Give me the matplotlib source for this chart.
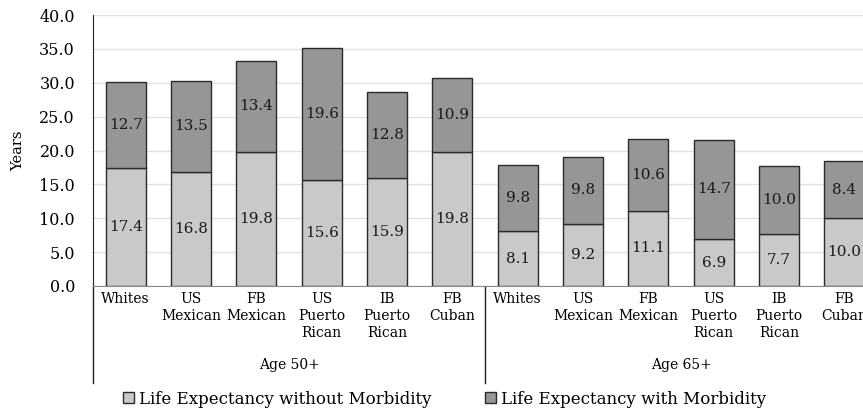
import numpy as np
import matplotlib
matplotlib.use('Agg')
import matplotlib.pyplot as plt
import matplotlib.transforms as mtransforms

# categories per age group
groups = ["Age 50+", "Age 65+"]
categories = ["Whites", "US\nMexican", "FB\nMexican", "US\nPuerto\nRican", "IB\nPuerto\nRican", "FB\nCuban"]

# life expectancy (years) without and with morbidity
without_50 = [17.4, 16.8, 19.8, 15.6, 15.9, 19.8]
with_50 = [12.7, 13.5, 13.4, 19.6, 12.8, 10.9]
without_65 = [8.1, 9.2, 11.1, 6.9, 7.7, 10.0]
with_65 = [9.8, 9.8, 10.6, 14.7, 10.0, 8.4]

yticks = [0, 5, 10, 15, 20, 25, 30, 35, 40]

light = "#c8c9cb"
dark = "#959698"
edge = "#2b2b2b"

plt.rcParams['font.family'] = ['DejaVu Serif']

fig = plt.figure(figsize=(8.63, 4.18), dpi=100)
# axis runs past the right edge of the figure, as in the original
ax = fig.add_axes([93 / 863, 132 / 418, 784 / 863, 271 / 418])

lower = np.array(without_50 + without_65)
upper = np.array(with_50 + with_65)
x = np.arange(len(lower))

b1 = ax.bar(x, lower, width=0.61, color=light, edgecolor=edge, linewidth=1.0,
            label="Life Expectancy without Morbidity", zorder=3)
b2 = ax.bar(x, upper, width=0.61, bottom=lower, color=dark, edgecolor=edge, linewidth=1.0,
            label="Life Expectancy with Morbidity", zorder=3)

for i in range(len(x)):
    ax.text(x[i], lower[i] / 2, f"{lower[i]:.1f}", ha='center', va='center',
            fontsize=11, color="#1a1a1a", zorder=4)
    ax.text(x[i], lower[i] + upper[i] / 2, f"{upper[i]:.1f}", ha='center', va='center',
            fontsize=11, color="#1a1a1a", zorder=4)

ax.set_xlim(-0.5, len(x) - 0.5)
ax.set_ylim(0, 40)
ax.set_yticks(yticks)
ax.set_yticklabels([f"{v:.1f}" for v in yticks], fontsize=11.5)
ax.yaxis.grid(True, color="#e2e2e2", linewidth=1.0, zorder=0)
ax.set_axisbelow(True)
ax.tick_params(axis='y', length=0, pad=13)
ax.set_ylabel("Years", fontsize=10.5, labelpad=10)

ax.set_xticks(x)
ax.set_xticklabels(categories * 2, fontsize=10, linespacing=1.3)
ax.tick_params(axis='x', length=0, pad=4)

for s in ['top', 'right']:
    ax.spines[s].set_visible(False)
ax.spines['left'].set_color("#222222")
ax.spines['bottom'].set_color("#8a8a8a")

# vertical separators below the axis and group labels
trans = mtransforms.blended_transform_factory(ax.transData, ax.transAxes)
low = -97 / 271
for xs in [-0.5, 5.5]:
    ax.plot([xs, xs], [0, low], transform=trans, color="#222222", linewidth=1.0, clip_on=False)
for g, name in enumerate(groups):
    ax.text(g * 6 + 2.5, -79 / 271, name, transform=trans, ha='center', va='center', fontsize=10)

fig.legend(handles=[b1, b2], loc='center', bbox_to_anchor=(0.515, 19 / 418), ncol=2,
           frameon=False, fontsize=12, handlelength=0.65, handleheight=0.65,
           handletextpad=0.3, columnspacing=3.2)

fig.savefig("out.png", dpi=100)
